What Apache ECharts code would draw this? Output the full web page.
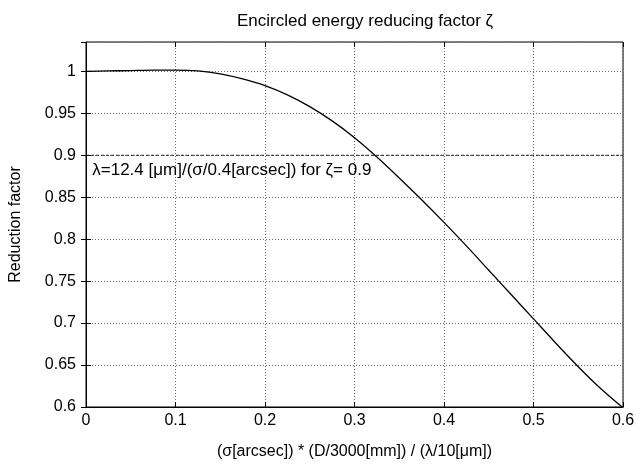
<!DOCTYPE html>
<html>
<head>
<meta charset="utf-8">
<script src="https://cdn.jsdelivr.net/npm/echarts@6/dist/echarts.min.js"></script>
<style>html,body{margin:0;padding:0;background:#fff}#c{width:640px;height:465px}</style>
</head>
<body>
<div id="c"></div>
<script>
var xValues = [0, 0.025, 0.05, 0.075, 0.1, 0.125, 0.15, 0.175, 0.2, 0.225, 0.25, 0.275, 0.3, 0.325, 0.35, 0.375, 0.4, 0.425, 0.45, 0.475, 0.5, 0.525, 0.55, 0.575, 0.6];
var zeta = [1.000, 1.0005, 1.001, 1.0015, 1.0015, 1.0005, 0.997, 0.991, 0.983, 0.972, 0.958, 0.941, 0.921, 0.898, 0.873, 0.847, 0.820, 0.792, 0.763, 0.734, 0.705, 0.676, 0.648, 0.622, 0.599];
var refLevel = 0.9;
var refLine = [[0, refLevel], [0.6, refLevel]];
var noteText = 'λ=12.4 [μm]/(σ/0.4[arcsec]) for ζ= 0.9';
var titleText = 'Encircled energy reducing factor ζ';
var xName = '(σ[arcsec]) * (D/3000[mm]) / (λ/10[μm])';
var yName = 'Reduction factor';

var font = 'Liberation Sans, Arial, Helvetica, sans-serif';
function fmt(v) {
  if (Math.abs(v * 20 - Math.round(v * 20)) > 1e-6) return '';
  return String(parseFloat(v.toFixed(2)));
}
var chart = echarts.init(document.getElementById('c'), null, {renderer: 'canvas'});
var gridStyle = {show: true, lineStyle: {color: '#666', type: [1, 2], width: 1}};
chart.setOption({
  animation: false,
  backgroundColor: '#fff',
  title: {text: titleText, left: 360, top: 8, textAlign: 'center',
    textStyle: {fontFamily: font, fontSize: 17, fontWeight: 'normal', color: '#000'}},
  grid: {left: 82, right: 17, top: 42, bottom: 52, show: true, borderColor: '#000', borderWidth: 1},
  xAxis: [{
    type: 'value', min: 0, max: 0.6, interval: 0.1,
    name: xName, nameLocation: 'middle', nameGap: 37,
    nameTextStyle: {fontFamily: font, fontSize: 16, color: '#000'},
    axisLine: {show: true, lineStyle: {color: '#000'}},
    axisTick: {show: true, inside: true, length: 5, lineStyle: {color: '#000'}},
    axisLabel: {fontFamily: font, fontSize: 16, color: '#000', margin: 6, formatter: function (v) { return String(parseFloat(v.toFixed(2))); }},
    splitLine: gridStyle
  }, {
    type: 'value', position: 'top', min: 0, max: 0.6, interval: 0.1,
    axisLine: {show: false}, axisTick: {show: true, inside: true, length: 5, lineStyle: {color: '#000'}},
    axisLabel: {show: false}, splitLine: {show: false}
  }],
  yAxis: [{
    type: 'value', min: 0.6, max: 1.035, interval: 0.05,
    name: yName, nameLocation: 'middle', nameGap: 62, nameRotate: 90,
    nameTextStyle: {fontFamily: font, fontSize: 16, color: '#000'},
    axisLine: {show: true, lineStyle: {color: '#000'}},
    axisTick: {show: true, inside: true, length: 5, lineStyle: {color: '#000'}},
    axisLabel: {fontFamily: font, fontSize: 16, color: '#000', margin: 10, showMaxLabel: false, formatter: fmt},
    splitLine: gridStyle
  }, {
    type: 'value', position: 'right', min: 0.6, max: 1.035, interval: 0.05,
    axisLine: {show: false}, axisTick: {show: true, inside: true, length: 5, lineStyle: {color: '#000'}},
    axisLabel: {show: false}, splitLine: {show: false}
  }],
  series: [{
    type: 'line', data: refLine, symbol: 'none', silent: true,
    lineStyle: {color: '#222', width: 1, type: [3, 2]},
    markPoint: {
      symbol: 'circle', symbolSize: 0,
      label: {show: true, position: 'right', distance: 0, formatter: noteText,
        fontFamily: font, fontSize: 17, color: '#000'},
      data: [{coord: [0.007, 0.882]}]
    }
  }, {
    type: 'line', data: xValues.map(function (x, i) { return [x, zeta[i]]; }),
    symbol: 'none', smooth: 0.3, lineStyle: {color: '#000', width: 1.3}
  }]
});
</script>
</body>
</html>
